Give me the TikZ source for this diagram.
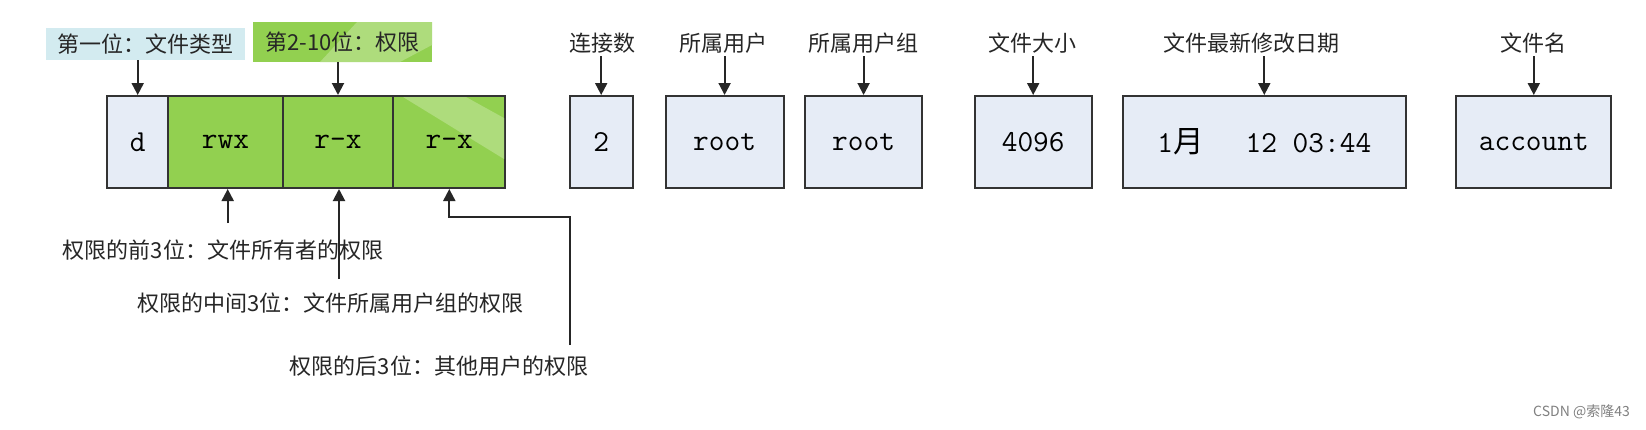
\documentclass[tikz,border=0pt]{standalone}
\usepackage{fontspec}
\newfontfamily\cjk{Noto Sans CJK SC}
\usetikzlibrary{arrows.meta}
\definecolor{cellfill}{HTML}{E6ECF6}
\definecolor{cyanfill}{HTML}{D3EBF0}
\definecolor{greenfill}{HTML}{92D050}
\definecolor{greenlight}{HTML}{AEDC7C}
\definecolor{edge}{HTML}{333333}
\tikzset{
  cell/.style={draw=edge, line width=2pt, fill=cellfill, inner sep=0pt,
    minimum height=92pt, font=\fontsize{30.5}{32}\selectfont\ttfamily},
  gcell/.style={cell, fill=greenfill},
  lab/.style={inner sep=0pt, font=\fontsize{22}{26}\selectfont\cjk, text=black!85},
  arr/.style={draw=black!85, line width=2pt, -{Triangle[width=12pt,length=12pt]}},
}
\begin{document}
\begin{tikzpicture}[x=1pt,y=-1pt]
\useasboundingbox[fill=white] (0,0) rectangle (1646,429);
% top label boxes
\node[lab, fill=cyanfill, minimum width=199pt, minimum height=32pt] (lab1) at (145,44) {第一位：文件类型};
\node[fill=greenfill, minimum width=179pt, minimum height=40pt, inner sep=0pt] (lab2) at (342.5,42) {};
\fill[greenlight] (357,22) -- (432,22) -- (432,45) -- (400,62) -- (320,62) -- cycle;
\node[lab] (lab2t) at (342.5,42) {第2-10位：权限};
% main cells
\node[cell, minimum width=61.4pt] (d) at (137.7,142) {d};
\node[gcell, minimum width=114.3pt] (rwx) at (225.5,142) {rwx};
\node[gcell, minimum width=110.5pt] (rx1) at (338,142) {r-x};
\node[gcell, minimum width=112.2pt] (rx2) at (449.3,142) {};
\fill[greenlight] (403,97) -- (466,97) -- (504,118) -- (504,159) -- cycle;
\node[font=\fontsize{30.5}{32}\selectfont\ttfamily] (rx2t) at (449.3,142) {r-x};
\node[cell, minimum width=63pt] (two) at (601.2,142) {2};
\node[cell, minimum width=118pt] (user) at (724.6,142) {root};
\node[cell, minimum width=117pt] (group) at (863.6,142) {root};
\node[cell, minimum width=117pt] (size) at (1033.2,142) {4096};
\node[cell, minimum width=282.6pt] (date) at (1264.3,142) {1{\cjk 月}\hspace{42pt}12 03:44};
\node[cell, minimum width=155pt] (name) at (1533.8,142) {account};
% top arrows
\draw[arr] (d.north |- lab1.south) -- (d.north);
\draw[arr] (rx1.north |- lab2.south) -- (rx1.north);
\node[lab] (l2) at (602.5,43) {连接数};
\node[lab] (l3) at (723,43) {所属用户};
\node[lab] (l4) at (863.2,43) {所属用户组};
\node[lab] (l5) at (1032.9,43) {文件大小};
\node[lab] (l6) at (1251.3,43) {文件最新修改日期};
\node[lab] (l7) at (1533,43) {文件名};
\draw[arr] ([yshift=-3pt]l2.south -| two.north) -- (two.north);
\draw[arr] ([yshift=-3pt]l3.south -| user.north) -- (user.north);
\draw[arr] ([yshift=-3pt]l4.south -| group.north) -- (group.north);
\draw[arr] ([yshift=-3pt]l5.south -| size.north) -- (size.north);
\draw[arr] ([yshift=-3pt]l6.south -| date.north) -- (date.north);
\draw[arr] ([yshift=-3pt]l7.south -| name.north) -- (name.north);
% bottom labels
\node[lab] (b1) at (223,250) {权限的前3位：文件所有者的权限};
\node[lab] (b2) at (330.5,303) {权限的中间3位：文件所属用户组的权限};
\node[lab] (b3) at (439,366) {权限的后3位：其他用户的权限};
\coordinate (c1) at (227.7,223);
\coordinate (c2) at (339,279);
\coordinate (c3) at (570,345);
\coordinate (k3) at (570,217);
\draw[arr] (c1) -- (c1 |- rwx.south);
\draw[arr] (c2) -- (c2 |- rx1.south);
\draw[arr] (c3) -- (k3) -- (rx2.south |- k3) -- (rx2.south);
% watermark
\node[inner sep=0pt, font=\fontsize{14}{16}\selectfont\cjk, text=black!50, anchor=east] (wm) at (1630,412) {CSDN @索隆43};
\end{tikzpicture}
\end{document}
